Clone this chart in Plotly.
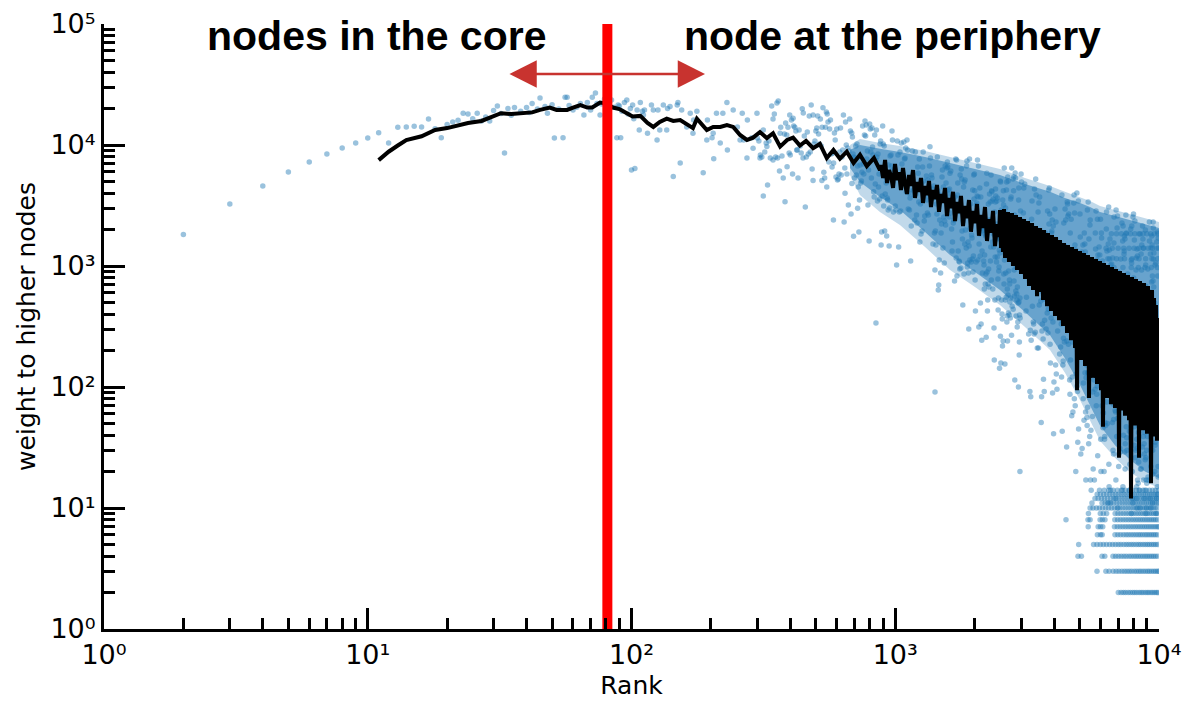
import math
import plotly.graph_objects as go

# ---------------- data ----------------
core_points = [(2, 1820), (3, 3250), (4, 4580), (5, 5980), (6, 7240), (7, 8430), (8, 9440),
               (9, 10400), (10, 11400), (11, 12600), (12, 10400), (13, 14000)]

early_points = [
    (14, 14100), (15, 14300), (16, 14100), (17, 16400), (18, 13600), (19, 11500), (20, 14800),
    (21, 15500), (22, 16000), (23, 18300), (24, 18000), (25, 16500), (26, 18300), (27, 15800),
    (28, 17000), (29, 15800), (30, 19300), (31, 21000), (32, 18200), (33, 8600), (34, 20000),
    (35, 17600), (36, 20400), (38, 19000), (40, 20400), (41, 18600), (42, 22000), (44, 19800),
    (45, 24500), (47, 20800), (48, 18300), (50, 21500), (51, 11400), (53, 19800), (55, 11500),
    (56, 24800), (57, 24800), (58, 21200), (60, 19500), (62, 20500), (64, 22000), (66, 17700),
    (68, 22500), (70, 19500), (71, 24800), (73, 26900), (74, 22000), (76, 17700), (77, 21800),
    (79, 24000), (81, 27000), (82, 14100), (84, 23500), (86, 20500), (88, 11500), (89, 21400),
    (90, 21000), (91, 11500), (92, 19000), (94, 22500), (96, 23500), (97, 18000), (99, 20000),
    (100, 6200), (101, 21400), (102, 16500), (103, 6400), (105, 19500), (107, 13300), (108, 22400),
    (110, 19000), (111, 17700), (112, 19500), (115, 12500), (119, 21400), (121, 19500), (125, 11000),
    (126, 19500), (128, 13300), (132, 21400), (136, 13300), (137, 20000), (140, 20800), (144, 5500),
    (149, 21400), (150, 22400), (153, 7100), (155, 19500), (162, 14100), (167, 18300), (171, 12500),
    (172, 16100), (177, 19000), (187, 5900), (193, 11000), (194, 16100), (202, 11500), (204, 12500),
    (205, 7700), (210, 18300), (217, 10400), (222, 18300), (230, 22400), (231, 9100), (243, 19500),
    (252, 14100), (258, 11000), (263, 18300), (266, 11000), (274, 7800), (275, 16100), (286, 11500),
    (289, 9400), (299, 18300), (307, 7800), (316, 13300), (326, 9700), (344, 7500), (358, 7800),
    (366, 12500), (382, 3400), (389, 6600), (398, 17700), (410, 16600), (424, 9100), (447, 7800),
    (488, 5100), (527, 5100), (550, 4500), (583, 2400), (645, 4000), (685, 4800), (695, 1760),
    (720, 3000),
]

outlier_points = [(845, 338), (1415, 91), (2970, 20)]

# weights of every 4th node, ranks 300 ... 996
seg_b_start, seg_b_step = 300, 4
seg_b_weights = [
    11400, 10790, 8270, 7960, 3790, 8750, 10390, 4670, 10790, 7800, 21000, 16400, 18000, 7960, 22200,
    23050, 6090, 14050, 8110, 5340, 12330, 15200, 12100, 14050, 8580,
    8270, 16100, 5760, 14330, 14050, 13050, 9100, 5340, 13300, 9810, 8580, 19900, 18350, 11870, 3070,
    7960, 12800, 8430, 17370, 8750, 21400, 6330, 17700, 10190, 10790,
    13050, 13830, 17370, 12330, 10190, 16400, 9810, 14050, 20300, 5950, 5340, 14050, 18700, 18000,
    15500, 7240, 13560, 16100, 8430, 6580, 8580, 7100, 12570, 11000, 5440,
    13560, 5140, 5240, 5760, 8750, 13830, 5650, 7960, 9100, 17700, 2310, 6460, 15500, 10000, 5760,
    9460, 3190, 8920, 16400, 13050, 2690, 12570, 11640, 8430, 7960,
    5340, 7800, 9810, 5650, 10190, 6710, 4500, 1910, 3510, 6840, 4850, 5040, 5950, 14330, 6970,
    5760, 12100, 15800, 11870, 14600, 7660, 8920, 3190, 6210, 1610,
    14900, 13560, 8750, 5340, 13830, 9620, 8270, 4100, 3720, 12100, 4760, 7520, 13300, 7960, 3440,
    8430, 4500, 5760, 3580, 10190, 10790, 1490, 1910, 3790, 14330,
    10190, 3130, 9810, 1945, 3940, 5440, 4850, 1769, 3650, 3510, 2900, 6840, 1463, 3014, 8110,
    6090, 8270, 6710, 13050, 11000, 4950, 2793, 5650, 5760, 6330,
]

# weights of every 6th node, ranks 1000 ... 2398
seg_c1_start, seg_c1_step = 1000, 6
seg_c1_weights = [
    3131, 2902, 1018, 10790, 8270, 1435, 2793, 8750, 2850, 10390, 6970, 5040, 5750, 10600, 7660,
    7800, 9440, 4100, 11000, 9100,
    2960, 4020, 2902, 3650, 1099, 2140, 4950, 8920, 4250, 4180, 3860, 2399, 8750, 3940, 2640,
    2270, 6580, 5850, 3379, 7660,
    1578, 3253, 1838, 4850, 1945, 6580, 8750, 5040, 2350, 2589, 3860, 4100, 5540, 3510, 2740,
    5140, 2640, 4250, 6710, 9650,
    7800, 3790, 5650, 5340, 4330, 1519, 3650, 4590, 1873, 926, 1945, 1490, 3253, 2689, 7970,
    4180, 633, 697, 1120, 2399,
    3860, 875, 1873, 2223, 5440, 6210, 1408, 4500, 2540, 1058, 2350, 6710, 2180, 4850, 3580,
    6460, 7240, 6580, 4250, 3940,
    2540, 4330, 5850, 2740, 6090, 3440, 2020, 1330, 1578, 3580, 2270, 2399, 3014, 751, 3720,
    2902, 7660, 1164, 7520, 826,
    3860, 4850, 1330, 2902, 1099, 1078, 944, 5650, 2793, 962, 6340, 5240, 1945, 1670, 476,
    2350, 4500, 858, 4950, 1519,
    5140, 1983, 2902, 1408, 6710, 7380, 980, 1058, 1578, 875, 301, 1463, 7660, 1120, 2060,
    3253, 2740, 1078, 1800, 1703,
    1142, 4250, 891, 1209, 5650, 3580, 5750, 4180, 765, 424, 2589, 1078, 3190, 3320, 3790,
    7520, 1120, 3720, 6710, 313,
    1519, 1838, 4420, 1209, 494, 3720, 331, 2060, 244, 1330, 875, 1945, 2223, 1983, 1099,
    1018, 645, 1232, 1838, 709,
    1769, 858, 258, 4760, 5850, 891, 424, 523, 709, 3253, 944, 670, 2399, 3940, 2350,
    3379, 1099, 1435, 5650, 765,
    4180, 4100, 3440, 1578, 645, 3580, 1838, 1435, 307, 167, 2793, 523, 1186, 3379,
]

# weights of every 5th node, ranks 2400 ... 2995
seg_c2_start, seg_c2_step = 2400, 5
seg_c2_weights = [
    4330, 3790, 1945, 1769, 1078, 2223, 3440, 1186, 3650, 1670, 780, 432, 543, 1703, 908, 980,
    1355, 143, 1838, 1280, 5040, 263, 4950, 158, 2140, 2902, 523, 1463, 401, 364, 218, 3510,
    1408, 240, 4180, 3190, 858, 709, 6460, 1120,
    2399, 155, 2740, 523, 3014, 875, 1408, 553, 4250, 4950, 344, 386, 645, 240, 5440, 575,
    5040, 408, 908, 1670, 1330, 394, 765, 709, 503, 2540, 371, 543, 3580, 2060, 3720, 2440,
    268, 6460, 1380, 466, 1800, 1873, 2223, 5240,
    440, 1983, 4180, 5440, 751, 926, 2640, 564, 114, 2140, 5860, 1058, 5340, 621, 386, 980,
    1355, 1186, 586, 523, 313, 670, 1058, 344, 1142, 494, 100, 3510, 4420, 503, 184, 235,
    394, 2266, 543, 371, 1609, 2850, 1548, 2350,
]

# weights of every 12th node, ranks 3000 ... 9948
seg_d_start, seg_d_step = 3000, 12
seg_d_weights = [
    5750, 4950, 2350, 2100, 1209, 2740, 4420, 1355, 4760, 1945, 842, 424, 553, 2020, 999, 1078, 1578, 274, 2180, 1463,
    92, 295, 83, 244, 2440, 3440, 466, 1548, 344, 331, 274, 4330, 1490, 284, 5240, 3860, 826, 657, 210, 1140,
    2793, 210, 3320, 476, 3720, 875, 1519, 513, 51, 83, 290, 331, 609, 249, 116, 533, 92, 357, 908, 1873,
    1280, 301, 670, 609, 408, 2850, 279, 440, 4250, 2223, 4420, 2689, 226, 158, 1355, 371, 1873, 1945, 2399, 89,
    344, 2140, 41, 110, 645, 842, 2960, 457, 152, 2309, 128, 980, 96, 523, 290, 908, 1330, 1120, 485, 424,
    187, 494, 875, 214, 944, 331, 121, 3860, 43, 350, 152, 164, 253, 2266, 378, 235, 1463, 2960, 1408, 2399,
    416, 621, 32, 240, 3379, 3253, 2589, 826, 226, 2689, 1038, 709, 114, 87, 1873, 167, 543, 2440, 657, 58,
    670, 121, 235, 62, 1078, 1280, 3320, 3860, 80, 2740, 1490, 70, 1355, 20, 128, 301, 214, 4020, 102, 92,
    35, 466, 3440, 45, 765, 350, 795, 440, 2689, 1736, 194, 28, 284, 301, 386, 1305, 31, 364, 1018, 1490,
    80, 108, 485, 53, 1873, 357, 1519, 131, 1305, 62, 17, 119, 187, 152, 56, 48, 2902, 68, 131, 3379,
    131, 34, 1670, 670, 962, 39, 2180, 2399, 17, 364, 44, 14, 218, 494, 206, 378, 57, 91, 908, 21,
    564, 533, 416, 114, 17, 440, 146, 96, 1873, 1380, 290, 2850, 70, 394, 87, 1120, 102, 2440, 27, 1232,
    158, 194, 553, 657, 1435, 449, 226, 1232, 202, 723, 2440, 37, 20, 683, 1873, 1703, 999, 70, 621, 1099,
    110, 46, 116, 61, 449, 274, 20, 858, 37, 39, 51, 198, 908, 48, 152, 235, 2020, 2793, 75, 1330,
    307, 50, 249, 11, 210, 1519, 697, 3070, 23, 15, 1355, 1142, 503, 1670, 11, 597, 14, 1018, 290, 108,
    149, 1038, 364, 408, 709, 51, 1164, 633, 30, 72, 28, 54, 1548, 2540, 140, 795, 89, 84, 64, 12,
    709, 62, 17, 2902, 301, 214, 39, 476, 2060, 55, 2589, 170, 10, 401, 891, 190, 22, 28, 87, 104,
    230, 67, 31, 194, 29, 112, 408, 1142, 765, 106, 307, 274, 158, 2266, 94, 173, 14, 1609, 15, 2140,
    67, 40, 795, 133, 1256, 1330, 1769, 29, 140, 1670, 21, 34, 338, 476, 2640, 214, 47, 1873, 38, 597,
    30, 244, 108, 513, 858, 683, 218, 184, 76, 274, 575, 91, 645, 164, 43, 14, 23, 173, 57, 64,
    110, 2020, 184, 98, 1120, 9, 1058, 2140, 249, 416, 20, 123, 12, 11, 2540, 586, 116, 2689, 795, 494,
    47, 33, 1640, 75, 344, 2350, 432, 26, 513, 63, 140, 30, 926, 1164, 12, 15, 37, 10, 1380, 31,
    1209, 17, 64, 184, 123, 16, 48, 42, 24, 371, 14, 27, 670, 263, 709, 350, 10, 1838, 131, 21,
    202, 214, 290, 1256, 21, 274, 926, 1490, 52, 75, 432, 32, 2140, 307, 1670, 94, 1408, 39, 17, 84,
    138, 110, 34, 28, 12, 42, 91, 14, 104, 25, 1983, 683, 1018, 26, 9, 10, 17, 338, 30, 16,
    180, 466, 170, 344, 39, 66, 944, 18, 586, 553, 408, 92, 17, 440, 126, 78, 2309, 1609, 274, 12,
    53, 378, 68, 1256, 81, 10, 22, 1408, 146, 187, 609, 737, 1769, 485, 222, 1490, 198, 826, 11, 30,
    19, 751, 2309, 2060, 1142, 60, 670, 1280, 108, 42, 114, 56, 494, 290, 20, 1018, 33, 35, 46, 206,
    1058, 43, 149, 240, 9, 12, 69, 1578, 344, 48, 268, 15, 226, 1909, 826, 13, 22, 18, 1703, 1408,
]

# horizontal runs of repeated weights at the top right
top_row_levels = [1850, 1400, 1150, 970]
top_row_ranks = [
    [6600, 6900, 7200, 7500, 7800, 8100, 8400, 8700, 9000, 9300, 9600, 9900],
    [6300, 6650, 7000, 7350, 7700, 8050, 8400, 8750, 9100, 9450, 9800],
    [6400, 6900, 7400, 7900, 8400, 8900, 9400, 9900],
    [6200, 6750, 7300, 7850, 8350, 8850, 9350, 9850],
]

# horizontal runs of small integer weights at the bottom right
bottom_row_levels = [2, 3, 4, 5, 6, 7, 8, 9, 10, 11, 12, 13, 14]
bottom_row_ranks = [
    [7010, 7180, 7330, 7470, 7640, 7790, 7950, 8090, 8240, 8410, 8560, 8700, 8870, 9020, 9160,
     9330, 9480, 9640, 9790, 9930],
    [5820, 6290, 6470, 6700, 6880, 7050, 7230, 7400, 7560, 7720, 7880, 8060, 8220, 8390, 8540,
     8710, 8880, 9050, 9200, 9370, 9540, 9700, 9860, 9990],
    [4930, 5080, 6080, 6230, 6690, 6850, 7020, 7190, 7360, 7520, 7700, 7860, 8030, 8190, 8350,
     8520, 8690, 8860, 9020, 9190, 9360, 9520, 9690, 9870],
    [4960, 5650, 5820, 5990, 6150, 6320, 6500, 6670, 6840, 7010, 7170, 7350, 7520, 7680, 7850,
     8010, 8190, 8360, 8520, 8700, 8870, 9040, 9200, 9380, 9550, 9720, 9890],
    [5840, 6000, 6090, 6810, 6980, 7150, 7330, 7500, 7660, 7830, 8000, 8170, 8340, 8500, 8670,
     8850, 9010, 9180, 9350, 9520, 9690, 9860],
    [5390, 5880, 6000, 6120, 6780, 6950, 7120, 7290, 7460, 7630, 7800, 7970, 8140, 8310, 8480,
     8650, 8820, 8990, 9160, 9330, 9500, 9670, 9840, 9980],
    [4440, 5380, 5480, 5980, 6100, 6240, 6800, 6970, 7140, 7310, 7480, 7650, 7820, 7990, 8160,
     8330, 8500, 8670, 8840, 9010, 9180, 9350, 9520, 9690, 9860],
    [5400, 5990, 6150, 6330, 6820, 6990, 7160, 7330, 7500, 7670, 7840, 8010, 8180, 8350, 8520,
     8690, 8860, 9030, 9200, 9370, 9540, 9710, 9880],
    [5480, 5620, 5790, 5950, 6110, 6280, 6440, 6610, 6780, 6950, 7120, 7290, 7460, 7630, 7800,
     7970, 8140, 8310, 8480, 8650, 8820, 8990, 9160, 9330, 9500, 9670, 9840],
    [5570, 6080, 6250, 6410, 6580, 6750, 6920, 7090, 7260, 7430, 7600, 7770, 7940, 8110, 8280,
     8450, 8620, 8790, 8960, 9130, 9300, 9470, 9640, 9810, 9980],
    [5720, 5880, 6050, 6210, 6380, 6550, 6720, 6890, 7060, 7230, 7400, 7570, 7740, 7910, 8080,
     8250, 8420, 8590, 8760, 8930, 9100, 9270, 9440, 9610, 9780, 9950],
    [5830, 6000, 6170, 6340, 6510, 6680, 6850, 7020, 7190, 7360, 7530, 7700, 7870, 8040, 8210,
     8380, 8550, 8720, 8890, 9060, 9230, 9400, 9570, 9740, 9910],
    [5950, 6200, 6450, 6700, 6950, 7200, 7450, 7700, 7950, 8200, 8450, 8700, 8950, 9200, 9450,
     9700, 9950],
]

# where the cloud is so dense that its dots merge into one blue mass:
# outer (moderately dense) and inner (densest) upper / lower edges
dense_rank = [674, 735, 875, 1042, 1297, 1613, 2006, 2495, 3104, 3862, 4400, 5018, 5476, 5975,
              6810, 7764, 8850, 10000]
outer_upper = [10000, 11200, 10400, 9800, 8920, 7960, 7100, 6330, 5340, 4590, 4100, 3720, 3440,
               3130, 2900, 2689, 2492, 2309]
outer_lower = [5650, 3860, 2793, 2180, 1435, 926, 670, 476, 313, 202, 131, 78, 53, 36, 26, 19.7,
               16.5, 14.6]
inner_upper = [9100, 10000, 9290, 8750, 7970, 7100, 6330, 5650, 4760, 4100, 3650, 3320, 3070,
               2793, 2589, 2399, 2223, 2060]
inner_lower = [6460, 4950, 3720, 2900, 1909, 1235, 891, 633, 416, 268, 173, 104, 71, 48, 33, 25,
               20, 17.6]

# running average (black curve)
trend_points = [
    (11, 7500), (12, 8800), (13, 9900), (14, 11000), (16, 11800), (18, 13300), (20, 13800),
    (24, 15200), (27, 15800), (29, 16700), (32, 18300), (35, 18000), (38, 18300), (42, 18600),
    (45, 19500), (49, 20400), (52, 19500), (57, 19500), (60, 20400), (64, 21400), (68, 20400),
    (71, 20400), (76, 22400), (81, 22000), (85, 20400), (90, 19800), (96, 18300), (101, 17200),
    (108, 17400), (115, 15200), (121, 14100), (128, 15500), (136, 16500), (144, 15800), (153, 16100),
    (162, 14900), (171, 13800), (177, 16500), (187, 14400), (193, 13300), (204, 14100), (217, 14100),
    (230, 14600), (243, 14100), (258, 12100), (274, 11000), (289, 11500), (307, 12800), (326, 11400),
    (344, 12500), (366, 9700), (389, 11000), (410, 11500), (435, 9900), (459, 10800), (488, 9400),
    (518, 10200), (550, 7800), (583, 9100), (617, 7700), (655, 8800), (695, 7100), (735, 8300),
    (780, 6700), (830, 7800), (875, 6200),
    (883, 6840), (899, 5340), (915, 7520), (931, 4850), (947, 6210), (964, 5540), (981, 4420),
    (998, 6970), (1016, 5140), (1034, 5950), (1051, 4250), (1070, 6460), (1089, 4760), (1108, 3940),
    (1128, 5650), (1147, 4590), (1168, 6210), (1188, 3650), (1209, 4950), (1230, 4100), (1252, 5340),
    (1274, 3320), (1297, 4590), (1320, 3860), (1343, 5040), (1366, 3070), (1390, 4250), (1415, 3580),
    (1440, 4670), (1465, 2800), (1491, 3940), (1517, 3320), (1544, 4420), (1571, 2590), (1599, 3650),
    (1627, 3010), (1656, 4100), (1685, 2350), (1714, 3380), (1745, 2740), (1775, 3790), (1807, 2140),
    (1838, 3130), (1871, 2490), (1904, 3510), (1937, 1920), (1971, 2850), (2006, 2260), (2042, 3250),
    (2077, 1780), (2114, 2640), (2151, 2060), (2189, 3070), (2228, 1610), (2267, 2440), (2307, 1880),
    (2348, 2850), (2389, 1460), (2431, 2220), (2474, 1740),
    (2495, 2902), (2517, 1408), (2539, 2689), (2561, 1305), (2584, 2958), (2607, 1164), (2629, 2589),
    (2652, 1355), (2676, 2793), (2699, 1078), (2723, 2492), (2747, 1232), (2771, 2741), (2795, 999),
    (2820, 2399), (2845, 1142), (2870, 2639), (2895, 926), (2920, 2309), (2946, 1078), (2972, 2540),
    (2998, 858), (3024, 2223), (3051, 999), (3078, 2445), (3105, 780), (3132, 2140), (3159, 891),
    (3187, 2354), (3215, 683), (3243, 2021), (3272, 826), (3301, 2266), (3330, 633), (3359, 1946),
    (3388, 737), (3418, 2140), (3448, 564), (3478, 1873), (3509, 683), (3540, 2060), (3571, 609),
    (3602, 1769), (3634, 523), (3665, 1983), (3698, 633), (3730, 1703), (3763, 466), (3795, 1873),
    (3829, 553), (3862, 1640), (3896, 424), (3930, 1803), (3964, 503), (3999, 1578), (4034, 386),
    (4070, 1736), (4105, 449), (4141, 1491), (4178, 357), (4214, 1640), (4251, 416), (4288, 1408),
    (4326, 319), (4364, 1548), (4402, 371), (4441, 1355), (4480, 279), (4519, 1491), (4559, 325),
    (4599, 1305), (4639, 244), (4680, 1435), (4721, 279), (4762, 1256), (4804, 210), (4846, 1381),
    (4889, 94), (4932, 1209), (4975, 194), (5018, 1330), (5062, 167), (5107, 1164), (5151, 202),
    (5196, 1280), (5242, 149), (5288, 1120), (5334, 173), (5381, 1232), (5428, 81), (5476, 1078),
    (5524, 149), (5572, 1186), (5621, 119), (5671, 1038), (5720, 133), (5770, 1142), (5821, 106),
    (5872, 999), (5923, 123), (5975, 1099), (6027, 94), (6080, 962), (6133, 47), (6188, 1058),
    (6242, 98), (6297, 926), (6352, 81), (6407, 1018), (6463, 91), (6520, 891), (6577, 72),
    (6635, 981), (6693, 84), (6752, 858), (6811, 67), (6871, 944), (6931, 78), (6992, 826),
    (7053, 26), (7115, 909), (7177, 64), (7240, 795), (7303, 72), (7368, 875), (7432, 58),
    (7498, 765), (7564, 67), (7630, 842), (7697, 53), (7764, 737), (7832, 12), (7900, 811),
    (7969, 60), (8040, 709), (8110, 48), (8181, 780), (8253, 55), (8326, 683), (8399, 26),
    (8472, 751), (8546, 51), (8621, 657), (8697, 44), (8773, 723), (8850, 47), (8928, 633),
    (9006, 41), (9085, 683), (9165, 46), (9245, 586), (9326, 16), (9408, 633), (9490, 39),
    (9573, 543), (9657, 42), (9741, 476), (9827, 36), (9913, 371), (10000, 39),
]

core_boundary_rank = 81
arrow_left_rank, arrow_right_rank, arrow_weight = 34, 190, 38600
left_label, right_label = "nodes in the core", "node at the periphery"
left_label_rank, right_label_rank, label_weight = 10.8, 976, 80000

x_tick_vals = [1, 10, 100, 1000, 10000]
x_tick_text = ["10\u2070", "10\u00b9", "10\u00b2", "10\u00b3", "10\u2074"]
y_tick_vals = [1, 10, 100, 1000, 10000, 100000]
y_tick_text = ["10\u2070", "10\u00b9", "10\u00b2", "10\u00b3", "10\u2074", "10\u2075"]
x_minor_vals = [m * d for d in (1, 10, 100, 1000) for m in range(2, 10)]
y_minor_vals = [m * d for d in (1, 10, 100, 1000, 10000) for m in range(2, 10)]

# ---------------- assemble ----------------
scatter_pts = core_points + early_points + outlier_points
for start, step, weights in ((seg_b_start, seg_b_step, seg_b_weights),
                             (seg_c1_start, seg_c1_step, seg_c1_weights),
                             (seg_c2_start, seg_c2_step, seg_c2_weights),
                             (seg_d_start, seg_d_step, seg_d_weights)):
    scatter_pts += [(start + step * i, w) for i, w in enumerate(weights)]
for lvl, ranks in zip(top_row_levels, top_row_ranks):
    scatter_pts += [(r, lvl) for r in ranks]
for lvl, ranks in zip(bottom_row_levels, bottom_row_ranks):
    scatter_pts += [(r, lvl) for r in ranks]
sx = [p[0] for p in scatter_pts]
sy = [p[1] for p in scatter_pts]

fig = go.Figure()
fig.add_trace(go.Scatter(x=dense_rank + dense_rank[::-1], y=outer_upper + outer_lower[::-1],
                         mode="lines", fill="toself", fillcolor="rgba(31,119,180,0.28)",
                         line=dict(width=0), hoverinfo="skip"))
fig.add_trace(go.Scatter(x=dense_rank + dense_rank[::-1], y=inner_upper + inner_lower[::-1],
                         mode="lines", fill="toself", fillcolor="rgba(31,119,180,0.55)",
                         line=dict(width=0), hoverinfo="skip"))
fig.add_trace(go.Scatter(x=sx, y=sy, mode="markers",
                         marker=dict(color="#1f77b4", size=5.5, opacity=0.45, line=dict(width=0)),
                         hoverinfo="skip"))
fig.add_trace(go.Scatter(x=[p[0] for p in trend_points], y=[p[1] for p in trend_points],
                         mode="lines", line=dict(color="black", width=4)))
fig.add_trace(go.Scatter(x=[core_boundary_rank, core_boundary_rank], y=[1, 100000],
                         mode="lines", line=dict(color="#ff0000", width=10)))

axis_common = dict(type="log", showline=True, linecolor="black", linewidth=3, mirror=False,
                   ticks="inside", ticklen=21, tickwidth=3, tickcolor="black",
                   showgrid=False, zeroline=False, automargin=False, ticklabeloverflow="allow",
                   tickfont=dict(family="DejaVu Sans", size=27, color="black"))

# the page adds an 8 px body margin, so the figure is 8 px smaller than the window
fig.update_layout(
    width=1186, height=696,
    margin=dict(l=96, r=35, t=16, b=75),
    plot_bgcolor="white", paper_bgcolor="white",
    showlegend=False,
    xaxis=dict(range=[0, 4], tickvals=x_tick_vals, ticktext=x_tick_text,
               minor=dict(ticks="inside", ticklen=11, tickwidth=2.5, tickcolor="black",
                          tickvals=x_minor_vals, showgrid=False),
               title=dict(text="Rank", font=dict(family="DejaVu Sans", size=25, color="black"),
                          standoff=8),
               **axis_common),
    yaxis=dict(range=[0, 5], tickvals=y_tick_vals, ticktext=y_tick_text,
               minor=dict(ticks="inside", ticklen=11, tickwidth=2.5, tickcolor="black",
                          tickvals=y_minor_vals, showgrid=False),
               title=dict(text="weight to higher nodes",
                          font=dict(family="DejaVu Sans", size=25, color="black"), standoff=8),
               **axis_common),
)

fig.add_annotation(x=math.log10(arrow_right_rank), y=math.log10(arrow_weight),
                   ax=math.log10(arrow_left_rank), ay=math.log10(arrow_weight),
                   xref="x", yref="y", axref="x", ayref="y", text="", showarrow=True,
                   arrowside="end+start", arrowhead=2, startarrowhead=2,
                   arrowsize=2.1, startarrowsize=2.1, arrowwidth=2.6, arrowcolor="#c8332f")
for txt, rk in ((left_label, left_label_rank), (right_label, right_label_rank)):
    fig.add_annotation(x=math.log10(rk), y=math.log10(label_weight), xref="x", yref="y",
                       text=txt, showarrow=False, xanchor="center", yanchor="middle",
                       font=dict(family="Liberation Sans", size=41, color="black", weight="bold"))

fig.write_html("out.html")
